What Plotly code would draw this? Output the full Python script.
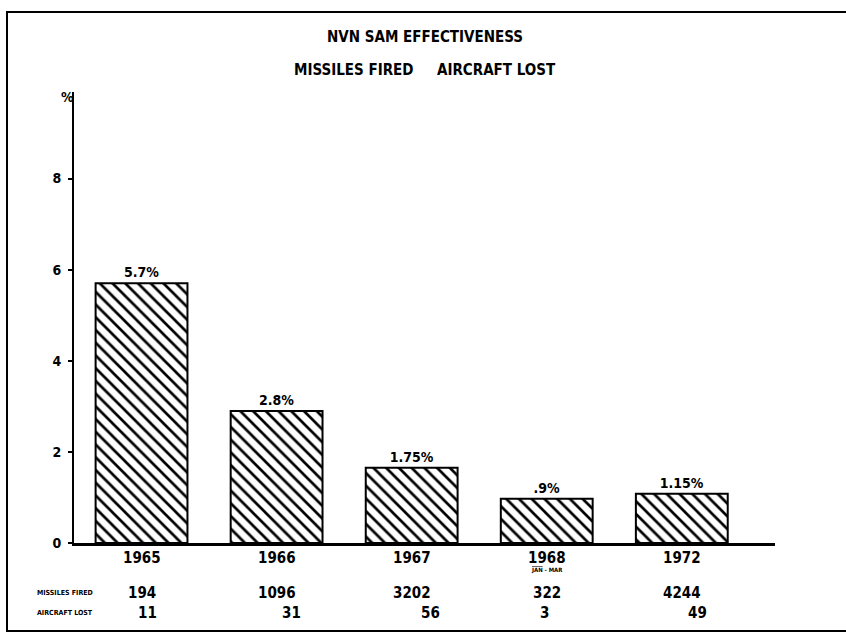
import plotly.graph_objects as go

# values
years = ["1965", "1966", "1967", "1968", "1972"]
bar_pct = [5.7, 2.9, 1.65, 0.97, 1.08]          # bar heights as drawn
pct_labels = ["5.7%", "2.8%", "1.75%", ".9%", "1.15%"]
missiles_fired = [194, 1096, 3202, 322, 4244]
aircraft_lost = [11, 31, 56, 3, 49]
y_ticks = [0, 2, 4, 6, 8]

FONT = "DejaVu Sans Condensed"
W, H = 846, 636
L, R, T, B = 74, 71, 92, 93
PW, PH = W - L - R, H - T - B

def px_x(p):
    return (p - L) / PW

def px_y(p):
    return (H - B - p) / PH

def bold(size):
    return dict(family=FONT, size=size, color="black", weight="bold")

fig = go.Figure()

fig.add_trace(go.Bar(
    x=years, y=bar_pct, width=0.68,
    marker=dict(color="white", line=dict(color="black", width=2),
                pattern=dict(shape="\\", fgcolor="black", bgcolor="white",
                             fgopacity=1, size=9, solidity=0.3)),
    text=pct_labels, textposition="outside", cliponaxis=False,
    textfont=bold(14),
    hoverinfo="skip",
))

anns = []
def note(text, x, y, size, xref="paper", **kw):
    anns.append(dict(text=text, x=x, xref=xref, y=px_y(y), yref="paper",
                     yanchor="middle", showarrow=False, font=bold(size), **kw))

# title lines
note("NVN SAM EFFECTIVENESS", px_x(425), 37, 15)
note("MISSILES FIRED\u00a0\u00a0\u00a0\u00a0\u00a0AIRCRAFT LOST", px_x(425), 70, 15)
note("%", px_x(59), 97, 14)

# year labels and table rows under the axis (category positions 0..4)
lost_shift = [6, 15, 19, -2, 16]
for i, yr in enumerate(years):
    note(yr, i, 558, 15, xref="x")
    note(str(missiles_fired[i]), i, 593, 15, xref="x")
    note(str(aircraft_lost[i]), i, 613, 15, xref="x", xshift=lost_shift[i])
note("<span style='text-decoration:overline'>JAN</span> - MAR",
     years.index("1968"), 570, 6, xref="x")
note("MISSILES FIRED", px_x(35), 593, 7, xanchor="left")
note("AIRCRAFT LOST", px_x(35), 613, 7, xanchor="left")

# page frame (scanned border, open at the right)
frame = dict(type="path", xref="paper", yref="paper",
             path="M {r},{t} L {l},{t} L {l},{b} L {r},{b}".format(
                 r=px_x(850), l=px_x(7), t=px_y(12), b=px_y(631)),
             line=dict(color="black", width=2))

fig.update_layout(
    width=W, height=H,
    margin=dict(l=L, r=R, t=T, b=B),
    paper_bgcolor="white", plot_bgcolor="white",
    showlegend=False,
    font=dict(family=FONT, color="black"),
    annotations=anns,
    shapes=[frame],
)
fig.update_xaxes(type="category", range=[-0.5, 4.69], showline=True,
                 linecolor="black", linewidth=3, showticklabels=False,
                 ticks="", showgrid=False, zeroline=False)
fig.update_yaxes(range=[0, 9.9], tickvals=y_ticks, showline=True,
                 linecolor="black", linewidth=2, ticks="outside", ticklen=4,
                 tickwidth=2, tickcolor="black", showgrid=False, zeroline=False,
                 ticklabelstandoff=4, tickfont=bold(14))

fig.write_html("out.html", config={"displayModeBar": False},
               post_script="document.body.style.margin='0';")
